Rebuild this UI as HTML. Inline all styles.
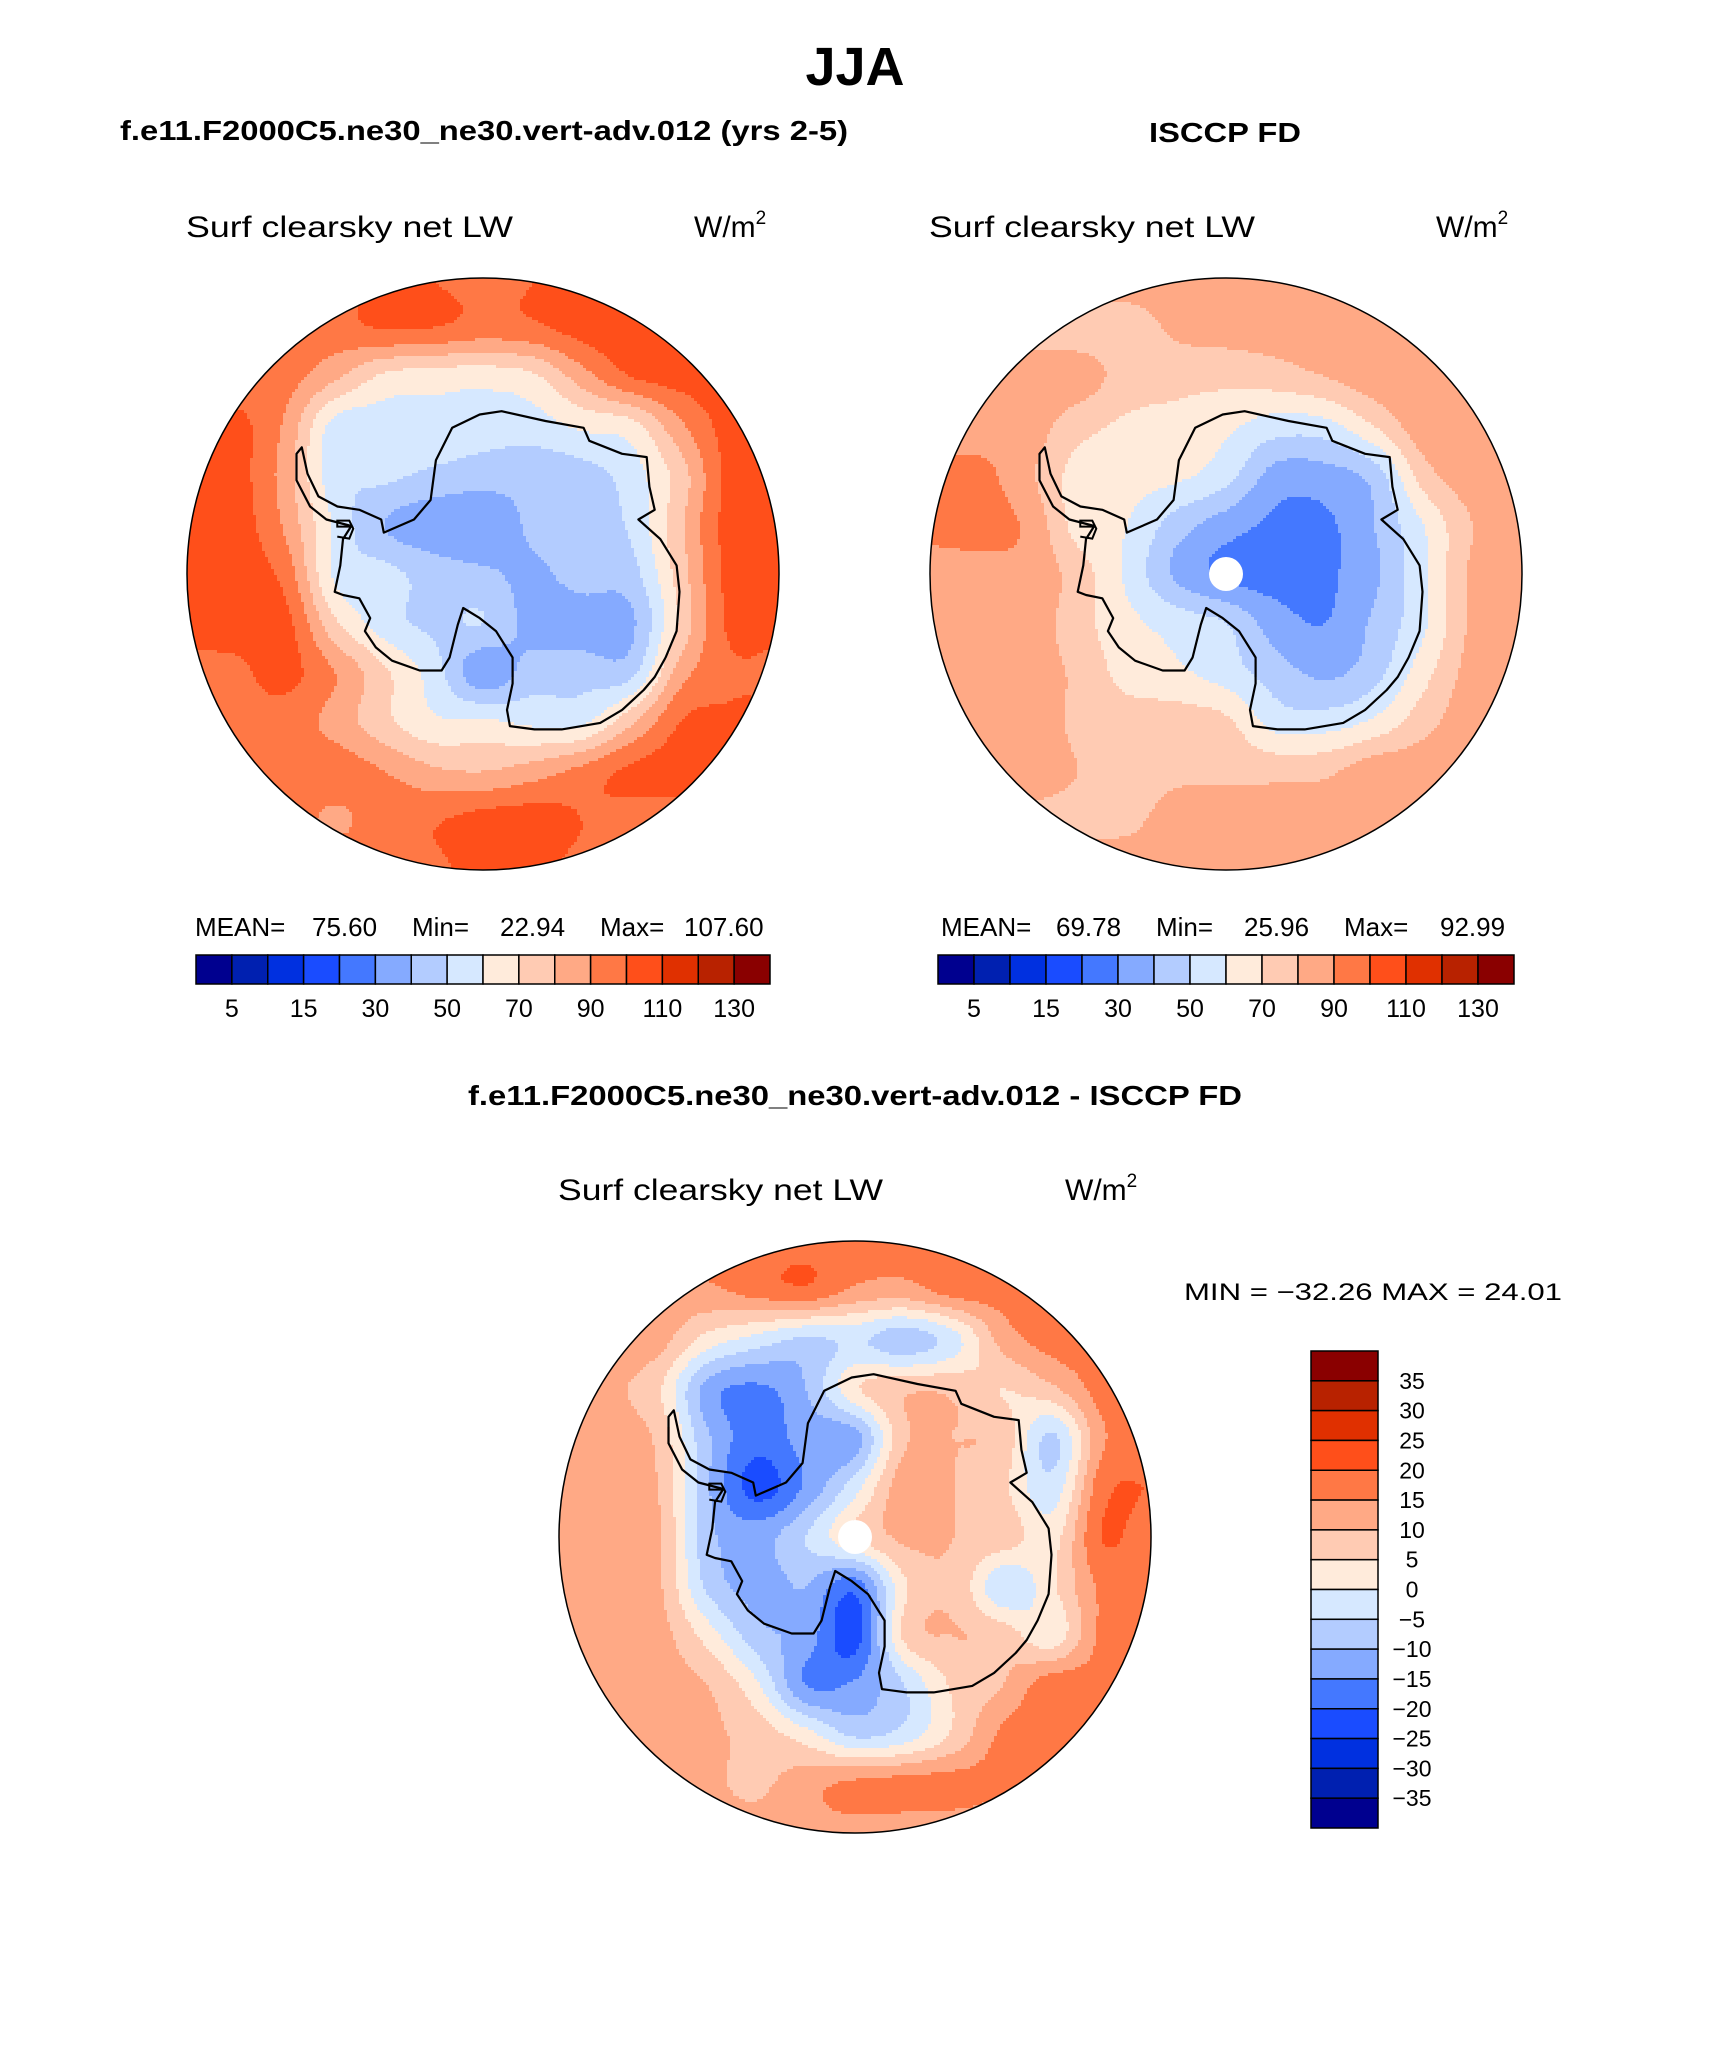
<!DOCTYPE html>
<html><head><meta charset="utf-8"><title>JJA Surf clearsky net LW</title>
<style>
html,body{margin:0;padding:0;background:#fff;}
svg{display:block;}
.t{font-family:"Liberation Sans",Arial,sans-serif;fill:#000;}
.b{font-weight:bold;}
</style></head>
<body>
<svg id="fig" width="1710" height="2061" viewBox="0 0 1710 2061" xmlns="http://www.w3.org/2000/svg">
<defs>
<clipPath id="clipL"><circle cx="483" cy="574" r="296"/></clipPath>
<clipPath id="clipR"><circle cx="1226" cy="574" r="296"/></clipPath>
<clipPath id="clipD"><circle cx="855" cy="1537" r="296"/></clipPath>
</defs>
<text class="t b" x="855" y="85" font-size="54" text-anchor="middle">JJA</text>
<text class="t b" x="120" y="140" font-size="28" textLength="728" lengthAdjust="spacingAndGlyphs">f.e11.F2000C5.ne30_ne30.vert-adv.012 (yrs 2-5)</text>
<text class="t b" x="1149" y="142" font-size="28" textLength="152" lengthAdjust="spacingAndGlyphs">ISCCP FD</text>
<text class="t" x="186" y="237" font-size="30" textLength="327" lengthAdjust="spacingAndGlyphs">Surf clearsky net LW</text>
<text class="t" x="694" y="237" font-size="30">W/m<tspan font-size="19" dy="-13">2</tspan></text>
<text class="t" x="929" y="237" font-size="30" textLength="326" lengthAdjust="spacingAndGlyphs">Surf clearsky net LW</text>
<text class="t" x="1436" y="237" font-size="30">W/m<tspan font-size="19" dy="-13">2</tspan></text>
<text class="t b" x="468" y="1105" font-size="28" textLength="774" lengthAdjust="spacingAndGlyphs">f.e11.F2000C5.ne30_ne30.vert-adv.012 - ISCCP FD</text>
<text class="t" x="558" y="1200" font-size="30" textLength="325" lengthAdjust="spacingAndGlyphs">Surf clearsky net LW</text>
<text class="t" x="1065" y="1200" font-size="30">W/m<tspan font-size="19" dy="-13">2</tspan></text>
<g id="mapL" clip-path="url(#clipL)"></g>
<g id="mapR" clip-path="url(#clipR)"></g>
<g id="mapD" clip-path="url(#clipD)"></g>
<g id="overlay"></g>
</svg>
<script>
// ---- data ----
const topLevels = [5,10,15,20,30,40,50,60,70,80,90,100,110,120,130];
const topTickLabels = ["5","15","30","50","70","90","110","130"];
const diffLevels = [-35,-30,-25,-20,-15,-10,-5,0,5,10,15,20,25,30,35];
const diffTickLabels = ["35","30","25","20","15","10","5","0","−5","−10","−15","−20","−25","−30","−35"];
const modelStats = ["MEAN=","75.60","Min=","22.94","Max=","107.60"];
const obsStats = ["MEAN=","69.78","Min=","25.96","Max=","92.99"];
const diffStats = ["MIN = −32.26 MAX =  24.01"];
// 13x13 grids, rows v=-1..1 (top to bottom), cols u=-1..1 (left to right)
const modelGrid = [
[95,95,95,95,102,100,97,100,104,104,104,104,104],
[95,95,95,96,101,100,96,98,104,106,106,106,106],
[95,95,94,82,68,65,64,68,85,100,104,105,105],
[104,103,88,56,55,57,55,55,62,66,88,104,104],
[105,104,85,54,52,48,45,44,46,55,75,103,104],
[106,105,88,58,40,33,31,42,44,52,78,104,104],
[105,105,96,58,53,46,42,38,44,46,75,103,104],
[104,104,103,72,55,48,50,36,35,38,72,102,102],
[97,98,103,90,72,55,33,45,46,47,85,98,98],
[97,97,96,86,73,62,62,58,58,78,100,102,102],
[97,97,97,96,90,82,80,85,93,102,104,104,104],
[97,97,96,88,96,99,104,105,100,96,96,96,96],
[97,97,97,97,97,98,104,103,97,96,96,96,96]
];
const obsGrid = [
[85,85,85,85,85,85,85,85,85,85,85,85,85],
[82,82,78,75,75,82,84,85,86,86,86,86,86],
[85,85,84,85,76,74,73,75,80,86,87,87,87],
[85,85,85,74,68,66,62,55,56,70,86,87,87],
[92,93,82,66,64,62,54,36,36,44,75,86,87],
[92,93,88,66,60,45,35,28,28,40,60,80,86],
[87,87,87,75,58,38,28,26,28,38,58,82,86],
[86,86,86,74,63,56,50,35,30,42,58,82,86],
[86,86,84,78,66,62,55,45,38,46,66,84,86],
[86,86,86,78,75,75,72,56,55,62,76,86,86],
[86,86,85,80,76,78,78,77,78,86,86,86,86],
[78,78,78,78,78,84,85,85,85,85,85,85,85],
[85,85,85,85,85,85,85,85,85,85,85,85,85]
];
const diffGrid = [
[16,16,16,16,17,18,17,16,16,16,16,16,16],
[14,14,14,14,17,19,14,13,17,17,17,17,17],
[12,12,12,3,-2,-6,-4,-8,-2,12,17,17,17],
[11,11,6,-12,-16,-10,4,9,9,5,9,17,17],
[12,12,9,-9,-18,-13,-12,9,10,8,-6,14,17],
[12,12,10,-9,-22,-14,-2,13,10,6,-3,18,20],
[12,12,11,-8,-12,-5,5,11,10,8,3,20,17],
[12,12,11,-6,-12,-10,-18,4,9,-4,4,16,16],
[12,12,12,3,-8,-12,-22,6,10,8,2,16,16],
[12,12,12,10,1,-15,-14,-5,6,10,18,17,17],
[12,12,12,11,8,2,-6,-3,6,16,17,17,17],
[11,11,11,11,9,13,16,17,17,16,16,16,16],
[12,12,12,12,12,13,13,12,12,12,12,12,12]
];
// Antarctic coastline in normalized map coords (u right, v down)
const coastU = [-0.335,-0.233,-0.177,-0.159,-0.104,-0.011,0.063,0.211,0.34,0.359,0.47,0.553,0.562,0.58,0.525,0.599,0.654,0.664,0.654,0.617,0.58,0.543,0.47,0.396,0.266,0.174,0.091,0.081,0.1,0.1,0.044,-0.011,-0.067,-0.085,-0.113,-0.14,-0.214,-0.307,-0.362,-0.399,-0.381,-0.418,-0.473,-0.501,-0.482,-0.473,-0.445,-0.529,-0.584,-0.63,-0.63,-0.612,-0.593,-0.556,-0.492,-0.418,-0.344];
const coastV = [-0.14,-0.184,-0.25,-0.384,-0.494,-0.539,-0.55,-0.517,-0.494,-0.45,-0.406,-0.395,-0.295,-0.217,-0.184,-0.118,-0.029,0.06,0.193,0.282,0.348,0.392,0.459,0.503,0.525,0.525,0.514,0.459,0.37,0.282,0.193,0.149,0.115,0.171,0.282,0.326,0.326,0.293,0.248,0.193,0.149,0.082,0.071,0.06,-0.029,-0.118,-0.162,-0.184,-0.228,-0.317,-0.406,-0.428,-0.339,-0.262,-0.228,-0.217,-0.184];

// ---- styles ----
const palette = ["#00008f","#0020b0","#0030e0","#1a4cff","#4478ff","#85aaff","#b3ccff","#d6e8ff","#ffebdb","#ffcbb3","#ffa985","#ff7845","#ff4f1a","#e03000","#b82200","#8a0000"];
const NS = "http://www.w3.org/2000/svg";
const fig = document.getElementById("fig");
const overlay = document.getElementById("overlay");
function mk(tag, attrs, parent){
  const e = document.createElementNS(NS, tag);
  for (const k in attrs) e.setAttribute(k, attrs[k]);
  (parent||overlay).appendChild(e);
  return e;
}
function cr(p0,p1,p2,p3,t){
  return 0.5*(2*p1+(-p0+p2)*t+(2*p0-5*p1+4*p2-p3)*t*t+(-p0+3*p1-3*p2+p3)*t*t*t);
}
function gv(g,i,j){ i=Math.max(0,Math.min(12,i)); j=Math.max(0,Math.min(12,j)); return g[j][i]; }
function sample(g,gx,gy){
  const i=Math.floor(gx), j=Math.floor(gy), fx=gx-i, fy=gy-j;
  const rows=[];
  for(let m=-1;m<=2;m++){
    rows.push(cr(gv(g,i-1,j+m),gv(g,i,j+m),gv(g,i+1,j+m),gv(g,i+2,j+m),fx));
  }
  return cr(rows[0],rows[1],rows[2],rows[3],fy);
}
function levelIndex(val, levels){
  let k=0; while(k<levels.length && val>=levels[k]) k++; return k;
}
function drawField(gid, cx, cy, r, grid, levels, name){
  const g = document.getElementById(gid);
  const st = 3;
  for(let y=cy-r; y<cy+r; y+=st){
    const v=(y+st/2-cy)/r;
    let runStart=null, runC=-1;
    for(let x=cx-r; x<=cx+r+st; x+=st){
      const u=(x+st/2-cx)/r;
      let c=-2;
      if (x<=cx+r){ c = levelIndex(sample(grid,(u+1)*6,(v+1)*6), levels); }
      if (c!==runC){
        if (runC>=0){
          const rc = mk("rect",{x:runStart,y:y,width:x-runStart+0.6,height:st+0.6,fill:palette[runC]},g);
          
          
        }
        runStart=x; runC=c;
      }
    }
  }
}
function drawMap(gid, cx, cy, r, grid, levels, name, hole){
  drawField(gid, cx, cy, r, grid, levels, name);
  let d="";
  for(let k=0;k<coastU.length;k++){ d+=(k?"L":"M")+(cx+coastU[k]*r).toFixed(1)+" "+(cy+coastV[k]*r).toFixed(1); }
  d+="Z";
  const cl = mk("path",{d:d,fill:"none",stroke:"#000","stroke-width":2.2,"stroke-linejoin":"round"});
  
  
  const isl = mk("path",{d:"M"+(cx-0.445*r)+" "+(cy-0.16*r)+"l-14 0l0 -6l12 0l4 8l-4 10l-12 -2",fill:"none",stroke:"#000","stroke-width":2});
  
  
  if(hole){
    const h = mk("circle",{cx:cx,cy:cy,r:17,fill:"#fff"});
    
    
  }
  const ring = mk("circle",{cx:cx,cy:cy,r:r,fill:"none",stroke:"#000","stroke-width":1.5});
  
  
}
drawMap("mapL",483,574,296,modelGrid,topLevels,"model",false);
drawMap("mapR",1226,574,296,obsGrid,topLevels,"obs",true);
drawMap("mapD",855,1537,296,diffGrid,diffLevels,"diff",true);

function hColorbar(x0,x1,y0,y1,name,stats,statX){
  const w=(x1-x0)/16;
  for(let k=0;k<16;k++){
    const b = mk("rect",{x:x0+k*w,y:y0,width:w,height:y1-y0,fill:palette[k],stroke:"#000","stroke-width":1.5});
    
    
  }
  topTickLabels.forEach((lab,i)=>{
    const t = mk("text",{x:x0+(2*i+1)*w,y:1017,"font-size":25,"text-anchor":"middle",class:"t"});
    t.textContent=lab;
    
    
  });
  stats.forEach((s,i)=>{
    const t = mk("text",{x:statX[i],y:936,"font-size":26,class:"t"});
    t.textContent=s;
    
    
  });
}
hColorbar(196,770,955,984,"model",modelStats,[195,312,412,500,600,684]);
hColorbar(938,1514,955,984,"obs",obsStats,[941,1056,1156,1244,1344,1440]);

// vertical colorbar for difference
(function(){
  const x0=1311,x1=1378,y0=1351,y1=1828,h=(y1-y0)/16;
  for(let k=0;k<16;k++){
    const b = mk("rect",{x:x0,y:y0+k*h,width:x1-x0,height:h,fill:palette[15-k],stroke:"#000","stroke-width":1.5});
    
    
  }
  diffTickLabels.forEach((lab,i)=>{
    const t = mk("text",{x:1412,y:y0+(i+1)*h+8,"font-size":23,"text-anchor":"middle",class:"t"});
    t.textContent=lab;
    
    
  });
  const t = mk("text",{x:1184,y:1300,"font-size":24,class:"t",textLength:378,lengthAdjust:"spacingAndGlyphs"});
  t.textContent=diffStats[0];
  
  
})();
</script>
</body></html>
